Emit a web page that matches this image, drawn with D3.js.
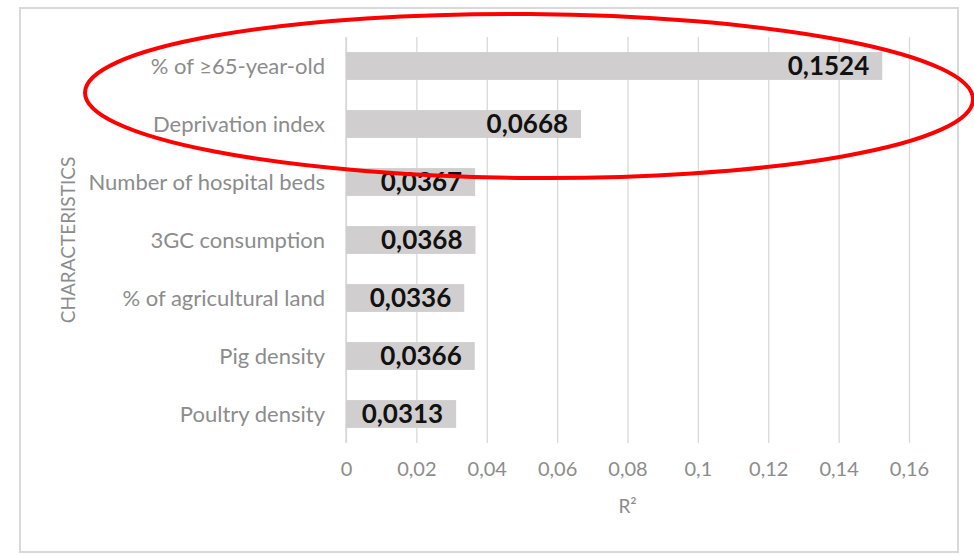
<html>
<head>
<script src="https://d3js.org/d3.v7.min.js"></script>
<style>
  body { margin: 0; background: #fff; }
  text { font-family: Lato, "Open Sans", sans-serif; }
</style>
</head>
<body>
<script>
// data
var categories = ["% of \u226565-year-old", "Deprivation index", "Number of hospital beds",
                  "3GC consumption", "% of agricultural land", "Pig density", "Poultry density"];
var values = [0.1524, 0.0668, 0.0367, 0.0368, 0.0336, 0.0366, 0.0313];
var labels = ["0,1524", "0,0668", "0,0367", "0,0368", "0,0336", "0,0366", "0,0313"];
var xTicks = [0, 0.02, 0.04, 0.06, 0.08, 0.1, 0.12, 0.14, 0.16];

var width = 974, height = 555;
// plot area (note: "top" is taken by window.top)
var plotLeft = 346, plotRight = 909, plotTop = 37, plotBottom = 443;

var svg = d3.select("body").append("svg")
  .attr("width", width)
  .attr("height", height);

// outer frame
svg.append("rect")
  .attr("x", 20).attr("y", 8)
  .attr("width", 938).attr("height", 544)
  .attr("fill", "none")
  .attr("stroke", "#d9d9d9")
  .attr("stroke-width", 2);

var x = d3.scaleLinear().domain([0, 0.16]).range([plotLeft, plotRight]);
var y = d3.scaleBand().domain(categories).range([plotTop, plotBottom]).paddingInner(0.52).paddingOuter(0.26);

var fmt = function(d) { return String(d).replace(".", ","); };

// gridlines + tick labels
var xAxis = svg.append("g")
  .attr("transform", "translate(0," + plotBottom + ")")
  .call(d3.axisBottom(x).tickValues(xTicks).tickSize(-(plotBottom - plotTop)).tickPadding(19).tickFormat(fmt));
xAxis.select(".domain").remove();
xAxis.selectAll("line").attr("stroke", "#d9d9d9").attr("stroke-width", 1.3);
xAxis.selectAll("text").attr("fill", "#8c8c8c").style("font-size", "20px");

// category axis line
svg.append("line")
  .attr("x1", plotLeft).attr("x2", plotLeft)
  .attr("y1", plotTop).attr("y2", plotBottom)
  .attr("stroke", "#d9d9d9").attr("stroke-width", 1.5);

// category labels
svg.append("g").selectAll("text")
  .data(categories)
  .enter().append("text")
  .attr("x", 325)
  .attr("y", d => y(d) + y.bandwidth() / 2)
  .attr("dy", "0.35em")
  .attr("text-anchor", "end")
  .attr("fill", "#8c8c8c")
  .style("font-size", "22px")
  .text(d => d);

// bars
svg.append("g").selectAll("rect")
  .data(values)
  .enter().append("rect")
  .attr("x", x(0))
  .attr("y", (d, i) => y(categories[i]))
  .attr("width", d => x(d) - x(0))
  .attr("height", y.bandwidth())
  .attr("fill", "#d0cece");

// value labels
svg.append("g").selectAll("text")
  .data(values)
  .enter().append("text")
  .attr("x", d => x(d) - 13)
  .attr("y", (d, i) => y(categories[i]) + y.bandwidth() / 2)
  .attr("dy", "0.36em")
  .attr("text-anchor", "end")
  .attr("fill", "#111")
  .style("font-size", "26px")
  .style("font-weight", "bold")
  .text((d, i) => labels[i]);

// axis titles
svg.append("text")
  .attr("x", (plotLeft + plotRight) / 2)
  .attr("y", 513)
  .attr("text-anchor", "middle")
  .attr("fill", "#8c8c8c")
  .style("font-size", "19px")
  .text("R\u00b2");

svg.append("text")
  .attr("transform", "translate(75,240) rotate(-90)")
  .attr("text-anchor", "middle")
  .attr("fill", "#8c8c8c")
  .style("font-size", "19px")
  .text("CHARACTERISTICS");

// red highlight ellipse
svg.append("ellipse")
  .attr("cx", 529).attr("cy", 96)
  .attr("rx", 444).attr("ry", 82)
  .attr("transform", "rotate(0.45,529,96)")
  .attr("fill", "none")
  .attr("stroke", "#f00")
  .attr("stroke-width", 4);
</script>
</body>
</html>
